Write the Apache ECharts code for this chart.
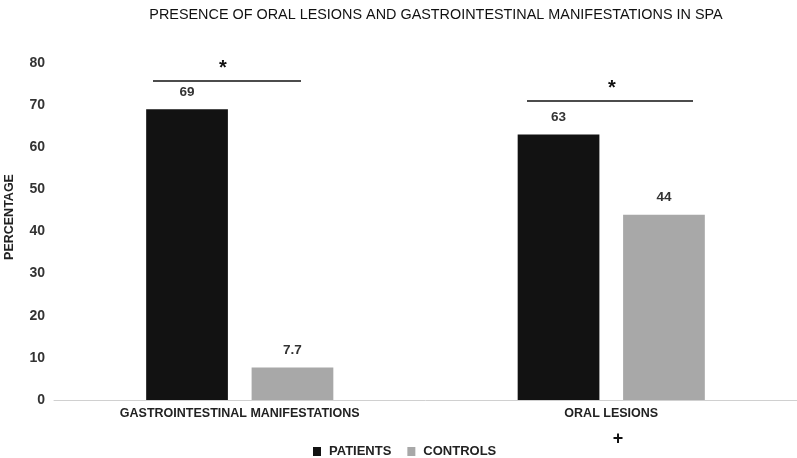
<!DOCTYPE html>
<html>
<head>
<meta charset="utf-8">
<script src="https://cdn.jsdelivr.net/npm/echarts@6/dist/echarts.min.js"></script>
<style>
  html, body { margin: 0; padding: 0; background: #fff; }
  #chart { width: 797px; height: 458px; }
</style>
</head>
<body>
<div id="chart"></div>
<script>
const categories = ['GASTROINTESTINAL MANIFESTATIONS', 'ORAL LESIONS'];
const patients = [69, 63];
const controls = [7.7, 44];
const seriesNames = ['PATIENTS', 'CONTROLS'];

const chart = echarts.init(document.getElementById('chart'));

const labelStyle = {
  show: true,
  position: 'top',
  distance: 10,
  color: '#333',
  fontWeight: 'bold',
  fontSize: 13.5,
  fontFamily: 'Arial, Liberation Sans'
};

chart.setOption({
  backgroundColor: '#fff',
  title: {
    text: 'PRESENCE OF ORAL LESIONS AND GASTROINTESTINAL MANIFESTATIONS IN SPA',
    left: 431,
    textAlign: 'center',
    top: 3,
    textStyle: { color: '#111', fontWeight: 'normal', fontSize: 14.4, fontFamily: 'Liberation Sans Narrow, Arial' }
  },
  legend: {
    top: 445,
    left: 313,
    padding: 0,
    itemWidth: 8,
    itemHeight: 9,
    itemGap: 16,
    icon: 'rect',
    textStyle: { color: '#222', fontWeight: 'bold', fontSize: 13, fontFamily: 'Arial, Liberation Sans', padding: [0, 0, 0, 3] },
    data: seriesNames
  },
  grid: { left: 54, right: 0, top: 63, bottom: 58, containLabel: false },
  xAxis: {
    type: 'category',
    data: categories,
    axisLine: { lineStyle: { color: '#d0d0d0', width: 1 } },
    axisTick: { show: false },
    axisLabel: { color: '#222', fontWeight: 'bold', fontSize: 12.5, fontFamily: 'Arial, Liberation Sans', margin: 7 }
  },
  yAxis: {
    type: 'value',
    min: 0,
    max: 80,
    interval: 10,
    axisLine: { show: false },
    axisTick: { show: false },
    splitLine: { show: false },
    axisLabel: { color: '#333', fontWeight: 'bold', fontSize: 14, fontFamily: 'Arial, Liberation Sans', margin: 9 }
  },
  series: [
    {
      name: seriesNames[0],
      type: 'bar',
      data: patients,
      barWidth: '22%',
      barGap: '29%',
      itemStyle: { color: '#121212' },
      label: labelStyle
    },
    {
      name: seriesNames[1],
      type: 'bar',
      data: controls,
      barWidth: '22%',
      itemStyle: { color: '#a8a8a8' },
      label: labelStyle
    }
  ],
  graphic: [
    { type: 'text', x: 10, y: 217, rotation: Math.PI / 2, style: { text: 'PERCENTAGE', fill: '#222', font: 'bold 12.5px Arial', textAlign: 'center', textVerticalAlign: 'middle' } },
    { type: 'line', shape: { x1: 153, y1: 81, x2: 301, y2: 81 }, style: { stroke: '#111', lineWidth: 1.5 } },
    { type: 'text', x: 223, y: 68, style: { text: '*', fill: '#111', font: 'bold 20px Arial', textAlign: 'center', textVerticalAlign: 'middle' } },
    { type: 'line', shape: { x1: 527, y1: 101, x2: 693, y2: 101 }, style: { stroke: '#111', lineWidth: 1.5 } },
    { type: 'text', x: 612, y: 88, style: { text: '*', fill: '#111', font: 'bold 20px Arial', textAlign: 'center', textVerticalAlign: 'middle' } },
    { type: 'text', x: 618, y: 439, style: { text: '+', fill: '#111', font: 'bold 18px Arial', textAlign: 'center', textVerticalAlign: 'middle' } }
  ]
});
</script>
</body>
</html>
